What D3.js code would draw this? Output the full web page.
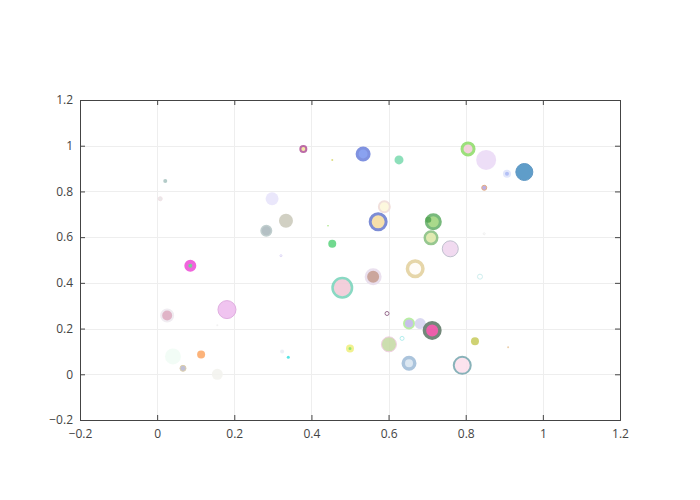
<!DOCTYPE html>
<html>
<head>
<meta charset="utf-8">
<script src="https://cdn.jsdelivr.net/npm/d3@7"></script>
<style>
  body { margin: 0; background: #fff; }
  svg { font-family: "Open Sans", sans-serif; }
</style>
</head>
<body>
<svg id="chart" width="700" height="500"></svg>
<script>
// bubble values
var xs = [0.379, 0.534, 0.627, 0.454, 0.806, 0.853, 0.907, 0.952, 0.848, 0.021,
          0.008, 0.298, 0.334, 0.283, 0.443, 0.454, 0.321, 0.589, 0.573, 0.716,
          0.703, 0.710, 0.760, 0.086, 0.026, 0.181, 0.041, 0.114, 0.067, 0.156,
          0.156, 0.480, 0.560, 0.669, 0.596, 0.653, 0.682, 0.713, 0.635, 0.601,
          0.500, 0.324, 0.340, 0.653, 0.837, 0.824, 0.910, 0.791, 0.848];
var ys = [0.986, 0.964, 0.938, 0.938, 0.986, 0.938, 0.877, 0.885, 0.816, 0.846,
          0.768, 0.768, 0.672, 0.628, 0.650, 0.571, 0.519, 0.733, 0.667, 0.667,
          0.676, 0.597, 0.549, 0.475, 0.257, 0.283, 0.078, 0.087, 0.026, 0.000,
          0.214, 0.379, 0.427, 0.462, 0.266, 0.222, 0.222, 0.192, 0.157, 0.131,
          0.113, 0.100, 0.074, 0.048, 0.427, 0.144, 0.118, 0.039, 0.615];
var sizes = [8, 15, 9, 2, 15, 20, 8, 18, 6, 4,
             5, 13, 14, 12, 1.5, 8, 3, 13, 19, 17,
             6, 15, 17, 12, 14, 19, 16, 8, 7, 11,
             2, 22, 17, 19, 5, 12, 11, 19, 5, 16,
             8, 4, 3, 15, 6, 8, 2, 19, 3];

// marker styles
var fills = ["#f3e59a", "#7b96ee", "#7ddbb0", "#d8d870", "#f2cbd9", "#ebdaf6", "#a9b8f5", "#4a90c2", "#b4a4e0", "#a8c4c0",
             "#e6e6e6", "#e7e4fb", "#cbcabb", "#aab8bc", "#90e060", "#5dd47f", "#ffffff", "#fdf8da", "#f5dca0", "#9ed47c",
             "#55a555", "#dde8a8", "#f0d6ef", "#60d080", "#dcaac0", "#eebcef", "#f0fcf5", "#fca868", "#b8b8d0", "#f3f3ee",
             "#f0f0f0", "#f2c9d7", "#c49a90", "#fffcf8", "#ffffff", "#c0b8e8", "#d5d3ef", "#ec4aa0", "#ffffff", "#c6daa4",
             "#88e060", "#e8ecf4", "#40e0e0", "#d8e4f0", "#ffffff", "#c8cc60", "#e8c8a0", "#fce0ec", "#ffffff"];
var lines = ["#b3579b", "#6f84dc", "#7ddbb0", "#d8d870", "#8fdc6a", "#ebdaf6", "#dfe4fb", "#4a8abc", "#e0a070", "#a8c4c0",
             "#eedde2", "#e7e4fb", "#cbcabb", "#b8c8c8", "#90e060", "#5dd47f", "#d8d0f5", "#f0dcd8", "#6a7dd0", "#66b06a",
             "#55a555", "#88c080", "#b8b8c8", "#ee50d8", "#eeeaf0", "#dca4dc", "#f0fcf5", "#fca868", "#d8c8a0", "#f3f3ee",
             "#f0f0f0", "#79d4bb", "#e8dcec", "#e3d19e", "#8a5a80", "#b0ec98", "#d5d3ef", "#607868", "#a8ecec", "#f0c8e0",
             "#f0f080", "#e8ecf4", "#40e0e0", "#a0bcd8", "#c8ecec", "#c8cc60", "#e8c8a0", "#78a8b0", "#eeeeee"];
var widths = [2, 3, 0, 0, 3, 0, 2, 1, 1, 0,
              1, 0, 0, 1.5, 0, 0, 1, 2, 3, 3,
              0, 2.5, 1, 4, 2, 1, 0, 0, 1, 0,
              0, 2.5, 2.5, 3.5, 1, 2, 0, 3.5, 1, 1,
              2.5, 0, 0, 3.5, 1, 0, 0, 2, 1];

var xTicks = [-0.2, 0, 0.2, 0.4, 0.6, 0.8, 1, 1.2];
var yTicks = [-0.2, 0, 0.2, 0.4, 0.6, 0.8, 1, 1.2];

var svg = d3.select("#chart");
var plotL = 80, plotR = 620, plotT = 100, plotB = 420;

var x = d3.scaleLinear().domain([-0.2, 1.2]).range([plotL, plotR]);
var y = d3.scaleLinear().domain([-0.2, 1.2]).range([plotB, plotT]);

function fmt(v) {
  var s = String(+v.toFixed(2));
  return s.replace("-", "\u2212");
}

// grid
svg.append("g").selectAll("line").data(xTicks.slice(1, -1)).enter().append("line")
  .attr("x1", function (d) { return Math.round(x(d)) + 0.5; })
  .attr("x2", function (d) { return Math.round(x(d)) + 0.5; })
  .attr("y1", plotT).attr("y2", plotB)
  .attr("stroke", "#eee");
svg.append("g").selectAll("line").data(yTicks.slice(1, -1)).enter().append("line")
  .attr("y1", function (d) { return Math.round(y(d)) + 0.5; })
  .attr("y2", function (d) { return Math.round(y(d)) + 0.5; })
  .attr("x1", plotL).attr("x2", plotR)
  .attr("stroke", "#eee");

// bubbles
var pts = xs.map(function (d, i) {
  return {x: d, y: ys[i], s: sizes[i], fill: fills[i], line: lines[i], w: widths[i]};
});

svg.append("g").selectAll("circle").data(pts).enter().append("circle")
  .attr("cx", function (d) { return x(d.x); })
  .attr("cy", function (d) { return y(d.y); })
  .attr("r", function (d) { return Math.max(0.4, d.s / 2 - d.w / 2); })
  .attr("fill", function (d) { return d.fill; })
  .attr("stroke", function (d) { return d.line; })
  .attr("stroke-width", function (d) { return d.w; })
  .attr("opacity", 0.88);

// axes box with inside ticks on every side
var bottomAxis = d3.axisBottom(x).tickValues(xTicks).tickSize(-5).tickFormat(fmt).tickPadding(9);
var leftAxis = d3.axisLeft(y).tickValues(yTicks).tickSize(-5).tickFormat(fmt).tickPadding(7);
var topAxis = d3.axisTop(x).tickValues(xTicks).tickSize(-5).tickFormat("");
var rightAxis = d3.axisRight(y).tickValues(yTicks).tickSize(-5).tickFormat("");

function style(g) {
  g.selectAll("path").attr("stroke", "#444").attr("stroke-width", 1);
  g.selectAll("line").attr("stroke", "#444");
  g.selectAll("text").attr("fill", "#444").attr("font-size", 12)
    .attr("font-family", "'Open Sans', sans-serif");
}

svg.append("g").attr("transform", "translate(0," + plotB + ")").call(bottomAxis).call(style);
svg.append("g").attr("transform", "translate(" + plotL + ",0)").call(leftAxis).call(style);
svg.append("g").attr("transform", "translate(0," + plotT + ")").call(topAxis).call(style);
svg.append("g").attr("transform", "translate(" + plotR + ",0)").call(rightAxis).call(style);
</script>
</body>
</html>
